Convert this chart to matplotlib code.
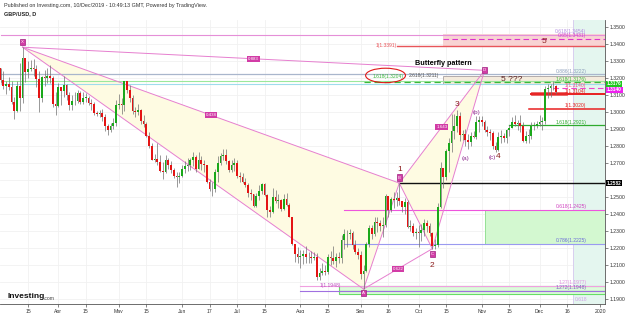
import matplotlib
matplotlib.use('Agg')
import matplotlib.pyplot as plt
import numpy as np
import pandas as pd
from matplotlib.patches import Rectangle, Ellipse, Polygon

plt.rcParams['font.family'] = ['Liberation Sans', 'DejaVu Sans']

# ---------------- DATA ----------------
first_open = 1.3260
closes = [
 # Mar
 1.3190,1.3150,1.3165,1.3145,1.3060,1.3005,1.3150,1.3085,1.3320,1.3235,1.3255,1.3260,1.3255,1.3195,1.3085,1.3205,1.3200,1.3210,1.3200,1.3045,1.3035,
 # Apr
 1.3145,1.3125,1.3160,1.3100,1.3040,1.3065,1.3065,1.3110,1.3060,1.3085,1.3085,1.3050,1.3045,1.2995,1.2990,1.2995,1.2970,1.2915,1.2895,1.2920,1.2935,1.3040,
 # May
 1.3045,1.3040,1.3180,1.3130,1.3085,1.3005,1.3000,1.3010,1.2945,1.2930,1.2860,1.2800,1.2720,1.2725,1.2705,1.2655,1.2650,1.2715,1.2690,1.2660,1.2625,1.2615,1.2625,
 # Jun
 1.2665,1.2685,1.2690,1.2715,1.2735,1.2665,1.2720,1.2695,1.2690,1.2590,1.2550,1.2545,1.2650,1.2700,1.2740,1.2745,1.2710,1.2660,1.2690,1.2700,
 # Jul
 1.2625,1.2615,1.2590,1.2570,1.2525,1.2515,1.2445,1.2505,1.2535,1.2575,1.2510,1.2425,1.2410,1.2500,1.2475,1.2485,1.2430,1.2490,1.2455,1.2380,1.2225,1.2165,1.2150,
 # Aug
 1.2155,1.2165,1.2145,1.2150,1.2140,1.2150,1.2030,1.2055,1.2065,1.2060,1.2145,1.2140,1.2125,1.2150,1.2140,1.2245,1.2280,1.2285,1.2290,1.2215,1.2175,1.2160,
 # Sep
 1.2050,1.2065,1.2225,1.2315,1.2285,1.2355,1.2350,1.2330,1.2335,1.2505,1.2425,1.2490,1.2480,1.2495,1.2475,1.2440,1.2470,1.2325,1.2330,1.2290,1.2295,
 # Oct
 1.2290,1.2305,1.2350,1.2330,1.2290,1.2210,1.2220,1.2440,1.2670,1.2620,1.2770,1.2820,1.2890,1.2915,1.2975,1.2865,1.2870,1.2835,1.2825,1.2860,1.2855,1.2940,1.2955,
 # Nov
 1.2940,1.2895,1.2885,1.2875,1.2800,1.2775,1.2855,1.2860,1.2850,1.2895,1.2905,1.2940,1.2930,1.2935,1.2920,1.2830,1.2860,1.2860,1.2920,1.2920,1.2930,
 # Dec
 1.2940,1.2950,1.3135,1.3140,1.3150,1.3150,1.3118,
]
highs = [
 1.3260,1.3240,1.3180,1.3205,1.3180,1.3090,1.3180,1.3290,1.3381,1.3300,1.3300,1.3305,1.3310,1.3275,1.3240,1.3210,1.3245,1.3260,1.3275,1.3210,1.3120,
 1.3170,1.3140,1.3210,1.3165,1.3120,1.3100,1.3115,1.3130,1.3125,1.3120,1.3110,1.3095,1.3075,1.3060,1.3005,1.3010,1.3020,1.2990,1.2930,1.2935,1.2965,1.3070,
 1.3105,1.3085,1.3180,1.3175,1.3160,1.3100,1.3030,1.3045,1.3015,1.2985,1.2940,1.2885,1.2815,1.2755,1.2815,1.2745,1.2705,1.2745,1.2730,1.2710,1.2670,1.2650,1.2650,
 1.2690,1.2710,1.2730,1.2730,1.2765,1.2745,1.2765,1.2740,1.2715,1.2690,1.2605,1.2590,1.2665,1.2740,1.2760,1.2780,1.2785,1.2720,1.2715,1.2730,
 1.2715,1.2650,1.2640,1.2610,1.2585,1.2545,1.2520,1.2525,1.2570,1.2580,1.2580,1.2515,1.2445,1.2555,1.2540,1.2515,1.2490,1.2520,1.2525,1.2465,1.2385,1.2225,1.2205,
 1.2190,1.2190,1.2210,1.2175,1.2185,1.2175,1.2170,1.2085,1.2110,1.2100,1.2165,1.2185,1.2210,1.2170,1.2175,1.2275,1.2310,1.2305,1.2310,1.2300,1.2245,1.2200,
 1.2180,1.2100,1.2235,1.2335,1.2335,1.2385,1.2385,1.2365,1.2385,1.2515,1.2450,1.2500,1.2530,1.2530,1.2582,1.2475,1.2495,1.2480,1.2365,1.2345,1.2320,
 1.2335,1.2340,1.2370,1.2365,1.2345,1.2295,1.2255,1.2465,1.2708,1.2670,1.2780,1.2845,1.2990,1.2990,1.3013,1.3000,1.2895,1.2900,1.2870,1.2885,1.2890,1.2975,1.2975,
 1.2975,1.2955,1.2915,1.2900,1.2890,1.2825,1.2880,1.2895,1.2875,1.2900,1.2925,1.2970,1.2985,1.2955,1.2985,1.2940,1.2890,1.2900,1.2940,1.2940,1.2950,
 1.2980,1.2970,1.3150,1.3165,1.3165,1.3180,1.3160,
]
lows = [
 1.3170,1.3135,1.3105,1.3130,1.3045,1.2960,1.3000,1.3005,1.3050,1.3175,1.3200,1.3240,1.3210,1.3145,1.3000,1.3060,1.3150,1.3170,1.3170,1.3030,1.2980,
 1.3030,1.3040,1.3090,1.3070,1.3010,1.3010,1.3040,1.3050,1.3045,1.3045,1.3060,1.3040,1.3010,1.2985,1.2975,1.2970,1.2950,1.2890,1.2865,1.2880,1.2900,1.2920,
 1.3020,1.2990,1.3005,1.3110,1.3060,1.2990,1.2970,1.2985,1.2930,1.2910,1.2855,1.2790,1.2720,1.2705,1.2690,1.2650,1.2605,1.2640,1.2665,1.2640,1.2610,1.2560,1.2580,
 1.2620,1.2640,1.2655,1.2660,1.2680,1.2650,1.2665,1.2660,1.2650,1.2580,1.2535,1.2505,1.2530,1.2590,1.2690,1.2715,1.2695,1.2650,1.2645,1.2655,
 1.2610,1.2590,1.2580,1.2560,1.2500,1.2485,1.2440,1.2440,1.2480,1.2515,1.2505,1.2380,1.2385,1.2405,1.2465,1.2435,1.2420,1.2425,1.2445,1.2380,1.2220,1.2120,1.2115,
 1.2080,1.2105,1.2110,1.2110,1.2110,1.2130,1.2015,1.2015,1.2040,1.2040,1.2045,1.2100,1.2105,1.2090,1.2115,1.2115,1.2195,1.2205,1.2255,1.2195,1.2165,1.2135,
 1.2020,1.1959,1.2060,1.2205,1.2255,1.2270,1.2295,1.2300,1.2265,1.2325,1.2385,1.2410,1.2435,1.2445,1.2455,1.2410,1.2400,1.2315,1.2300,1.2270,1.2255,
 1.2205,1.2240,1.2270,1.2295,1.2270,1.2196,1.2195,1.2205,1.2435,1.2555,1.2600,1.2650,1.2765,1.2840,1.2880,1.2830,1.2835,1.2800,1.2780,1.2800,1.2845,1.2840,1.2885,
 1.2915,1.2880,1.2860,1.2835,1.2785,1.2765,1.2770,1.2820,1.2825,1.2820,1.2860,1.2905,1.2915,1.2895,1.2880,1.2825,1.2815,1.2820,1.2840,1.2895,1.2905,
 1.2915,1.2895,1.2930,1.3085,1.3090,1.3130,1.3105,
]

x_tick_dates = ['2019-03-15','2019-04-01','2019-04-15','2019-05-01','2019-05-15','2019-06-03','2019-06-17',
                '2019-07-01','2019-07-15','2019-08-01','2019-08-15','2019-09-02','2019-09-16','2019-10-01',
                '2019-10-15','2019-11-01','2019-11-15','2019-12-02','2019-12-16','2020-01-01']
x_tick_labels = ['15','Apr','15','May','15','Jun','17','Jul','15','Aug','15','Sep','16','Oct','15','Nov','15','Dec','16','2020']
price_ticks = [1.19,1.20,1.21,1.22,1.23,1.24,1.25,1.26,1.27,1.28,1.29,1.30,1.31,1.32,1.33,1.34,1.35]

# XABCD butterfly pattern
pattern_labels = ['X','A','B','C','D']
pattern_dates = ['2019-03-13','2019-09-03','2019-09-20','2019-10-08','2019-11-04']
pattern_prices = [1.3381, 1.1959, 1.2582, 1.2196, 1.3245]
pattern_ratios = ['0.438','0.622','1.643','0.883']   # XB, AC, BD, XD

# Elliott wave labels (text, date, price)
wave_text = ['1','2','3','4','(a)','(b)','(c)','5 ???',"5'"]
wave_dates = ['2019-09-20','2019-10-08','2019-10-21','2019-11-11','2019-10-24','2019-10-30','2019-11-07','2019-11-18','2019-12-04']
wave_prices = [1.2660,1.2100,1.3047,1.2741,1.2729,1.3000,1.2735,1.3194,1.3412]
wave_colors = ['#8b1c1c','#8b1c1c','#8b1c1c','#8b1c1c','#8e2a8e','#8e2a8e','#8e2a8e','#5a2020','#8b1c1c']

# Horizontal levels: price, start date, colour, linestyle, label, label colour
level_prices = [1.3454, 1.3431, 1.3390, 1.3222, 1.3180, 1.3165, 1.3176, 1.3140, 1.3104, 1.3020, 1.2921, 1.2582, 1.2425, 1.2225, 1.1977, 1.1948]
level_starts = ['2019-03-01','2019-10-14','2019-09-19','2019-03-01','2019-03-01','2019-03-01','2019-09-03','2019-12-09','2019-11-27','2019-11-26','2019-11-15','2019-09-20','2019-08-23','2019-08-23','2019-08-01','2019-08-01']
level_colors = ['#e58fd8','#dd33cc','#e8555a','#a9b6cc','#9be89b','#9fdcec','#3cb83c','#ee44cc','#e82020','#e82020','#2eaa2e','#111111','#ee55dd','#9a9af0','#f0a0e0','#a070e0']
level_styles = ['-','--','-','-','-','-','--','--','-','-','-','-','-','-','-','-']
level_widths = [0.8, 0.8, 1.0, 0.9, 0.8, 0.8, 0.9, 0.8, 1.4, 1.1, 0.9, 1.0, 0.8, 0.8, 0.8, 0.8]
level_labels = ['0.618(1.3454)','0.65(1.3431)','','0.886(1.3222)','','','1.618(1.3176)','1(1.3140)','1(1.3104)','1(1.3020)','1.618(1.2921)','','0.618(1.2425)','0.786(1.2225)','1.27(1.1977)','1.272(1.1948)']
level_label_colors = ['#b38de0','#d040d0','#e8555a','#8ea0bc','#3cb83c','#3cb83c','#3cb83c','#ee5588','#e82020','#e82020','#2eaa2e','#111111','#d040c0','#6a6ad8','#e090e0','#8060c0']

green_tag_price = 1.3176
magenta_tag_price = 1.3140
b_level_price = 1.2582

# ---------------- FIGURE ----------------
all_days = pd.bdate_range('2019-03-01', '2020-01-10')
def di(d):
    return int(all_days.searchsorted(pd.Timestamp(d)))

n = len(closes)
xs = np.arange(n)
opens = [first_open] + closes[:-1]

fig = plt.figure(figsize=(6.25, 3.13), dpi=100)
fig.patch.set_facecolor('white')
ax = fig.add_axes([0, 9/313, 605/625, 284/313])
x_end = 219.8
ax.set_xlim(-0.2, x_end)
ax.set_ylim(1.1871, 1.3541)

# grid
for d in x_tick_dates:
    ax.axvline(di(d), color='#f1f1f1', lw=0.6, zorder=0)
for p in price_ticks:
    ax.axhline(p, color='#f1f1f1', lw=0.6, zorder=0)

# teal future band
band_start = di('2019-12-18')
ax.axvspan(band_start, x_end, color='#e4f6ef', zorder=0.5, lw=0)
ax.axvline(band_start, color='#d8c8f0', lw=0.6, zorder=0.6)

# pattern
px = [di(d) for d in pattern_dates]
py = pattern_prices
pink = '#e67fcf'
ax.add_patch(Polygon([(px[0], py[0]), (px[1], py[1]), (px[2], py[2])], closed=True,
                     fc='#fefbe2', ec='none', zorder=1))
ax.add_patch(Polygon([(px[2], py[2]), (px[3], py[3]), (px[4], py[4])], closed=True,
                     fc='#fefbe2', ec='none', zorder=1))
for a, b in [(0,1),(1,2),(0,2),(2,3),(3,4),(2,4),(0,4),(1,3)]:
    ax.plot([px[a], px[b]], [py[a], py[b]], color=pink, lw=0.7, zorder=4)

# zones
z0 = di('2019-10-14')
ax.add_patch(Rectangle((z0, 1.3390), x_end - z0, 1.3457 - 1.3390, fc='#f8d3d3', ec='none', zorder=1.5))
ax.add_patch(Rectangle((z0, 1.3165), x_end - z0, 1.3212 - 1.3165, fc='#f4ebdc', ec='#a8a0a0', lw=0.6, zorder=1.5))
ax.add_patch(Rectangle((di('2019-11-27'), 1.3101), di('2019-12-16') - di('2019-11-27'), 1.3117 - 1.3101,
                       fc='none', ec='#e85050', lw=0.6, zorder=3))
z1 = di('2019-11-04')
ax.add_patch(Rectangle((z1, 1.2225), x_end - z1, 1.2425 - 1.2225, fc='#d3f8d0', ec='#88dd88', lw=0.6, zorder=1.5))
z2 = di('2019-08-21')
ax.add_patch(Rectangle((z2, 1.1948), x_end - z2, 1.1977 - 1.1948, fc='#ddfadc', ec='#66dd66', lw=0.8, zorder=1.5))
ax.add_patch(Rectangle((z2, 1.1932), x_end - z2, 1.1948 - 1.1932, fc='#ddfadc', ec='#66dd66', lw=0.8, zorder=1.5))

# levels
lab_x = di('2019-12-25')
for p, s, c, ls, lw, lab, lc in zip(level_prices, level_starts, level_colors, level_styles, level_widths,
                                    level_labels, level_label_colors):
    style = (0, (5, 3)) if ls == '--' else '-'
    ax.plot([di(s), x_end], [p, p], color=c, lw=lw, ls=style, zorder=3)
    if lab:
        ax.text(lab_x, p + 0.0003, lab, color=lc, fontsize=3.6, ha='right', va='bottom', zorder=6)

ax.text(di('2019-09-19'), 1.3390, '1(1.3391)', color='#e8555a', fontsize=3.6, ha='right', va='center', zorder=6)
ax.text(di('2019-09-16'), 1.3210, '1.618(1.3204)', color='#3cb83c', fontsize=3.6, ha='center', va='center', zorder=6)
ax.text(di('2019-10-03'), 1.3212, '2.618(1.3211)', color='#555555', fontsize=3.6, ha='center', va='center', zorder=6)
ax.text(di('2019-08-16'), 1.1977, '1(1.1948)', color='#c050c0', fontsize=3.6, ha='center', va='center', zorder=6)
ax.text(di('2019-12-23'), 1.1898, '0.618', color='#d0a0e8', fontsize=3.6, ha='center', va='center', zorder=6)
ax.add_patch(Ellipse((di('2019-09-13'), 1.3215), 14.5, 0.0085, fill=False, ec='#e01818', lw=0.8, zorder=6))
ax.text(di('2019-10-14'), 1.3284, 'Butterfly pattern', fontsize=5.2, fontweight='bold', ha='center', va='center', zorder=6)

# candles
up = '#1aa81a'
down = '#e41414'
cols = [up if c >= o else down for o, c in zip(opens, closes)]
ax.vlines(xs, lows, highs, color='#707070', lw=0.5, zorder=5)
bottoms = [min(o, c) for o, c in zip(opens, closes)]
heights = [max(abs(c - o), 0.00025) for o, c in zip(opens, closes)]
ax.bar(xs, heights, bottom=bottoms, width=0.66, color=cols, lw=0, zorder=5.5)

# pattern point labels
offs = [(0, 4), (0, -3), (0, 4), (0, -4), (0, 0)]
for lab, x, y, o in zip(pattern_labels, px, py, offs):
    ax.annotate(lab, (x, y), xytext=o, textcoords='offset points', fontsize=3.2, color='white',
                ha='center', va='center', zorder=8,
                bbox=dict(boxstyle='square,pad=0.25', fc='#d23ca6', ec='#a02080', lw=0.5))
for lab, (a, b) in zip(pattern_ratios, [(0,2),(1,3),(2,4),(0,4)]):
    ax.text((px[a] + px[b]) / 2, (py[a] + py[b]) / 2, lab, fontsize=3.2, color='white',
            ha='center', va='center', zorder=8,
            bbox=dict(boxstyle='square,pad=0.2', fc='#d23ca6', ec='none'))

for t, d, p, c in zip(wave_text, wave_dates, wave_prices, wave_colors):
    fs = 6 if t in ['1','2','3','4',"5'", '5 ???'] else 4.6
    ax.text(di(d), p, t, color=c, fontsize=fs, ha='center', va='center', zorder=8)

# axes
for s in ['top', 'left']:
    ax.spines[s].set_visible(False)
ax.spines['right'].set_color('#555555')
ax.spines['bottom'].set_color('#555555')
ax.spines['right'].set_linewidth(0.6)
ax.spines['bottom'].set_linewidth(0.6)
ax.yaxis.tick_right()
ax.set_yticks(price_ticks)
# the black B-level tag covers the 1.2600 label, as in the reference
ax.set_yticklabels(['' if abs(p - 1.26) < 1e-9 else '%.4f' % p for p in price_ticks])
ax.set_xticks([di(d) for d in x_tick_dates])
ax.set_xticklabels(x_tick_labels)
ax.tick_params(axis='both', labelsize=3.7, colors='#555555', length=2, width=0.5, pad=1.5)
ax.tick_params(axis='y', labelcolor='#333333')
ax.tick_params(axis='x', labelcolor='#333333')

# price labels on axis
def axis_tag(price, text, fc, dy=0, tc='white'):
    ax.annotate(text, (1.0, price), xycoords=('axes fraction', 'data'), xytext=(1.5, dy),
                textcoords='offset points', fontsize=3.4, color=tc, ha='left', va='center',
                fontweight='bold', zorder=10, annotation_clip=False,
                bbox=dict(boxstyle='square,pad=0.14', fc=fc, ec='none'))
axis_tag(green_tag_price, '%.4f' % green_tag_price, '#1ec81e', dy=-1.2)
axis_tag(magenta_tag_price, '%.4f' % magenta_tag_price, '#ee22ee', dy=-1.1)
axis_tag(b_level_price, '%.4f' % b_level_price, '#000000')

# header & logo
fig.text(4/625, 1 - 5/313, 'Published on Investing.com, 10/Dec/2019 - 10:49:13 GMT, Powered by TradingView.',
         fontsize=3.9, color='#333333', ha='left', va='center')
fig.text(4/625, 1 - 14/313, 'GBP/USD, D', fontsize=4, fontweight='bold', color='#222222', ha='left', va='center')
fig.text(7/625, 1 - 297/313, 'Investing', fontsize=6.0, fontweight='bold', color='#111111', ha='left', va='center')
fig.text(44/625, 1 - 298/313, '.com', fontsize=3.6, color='#444444', ha='left', va='center')

fig.savefig('out.png', dpi=100)
